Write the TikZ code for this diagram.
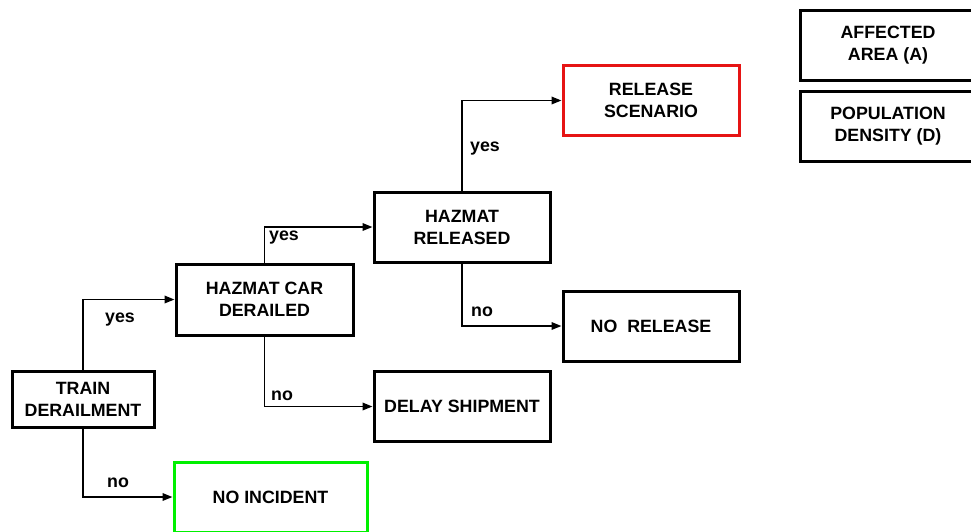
\documentclass[tikz,border=0pt]{standalone}
\usepackage{fontspec}
\setmainfont{Liberation Sans}
\usetikzlibrary{arrows.meta}
\begin{document}
\begin{tikzpicture}[x=1pt,y=-1pt,
  box/.style={draw=black,line width=3pt,minimum width=176pt,minimum height=70pt,
    align=center,font=\fontsize{17.8}{22}\selectfont\bfseries,inner sep=0pt,fill=white},
  conn/.style={line width=1.8pt,-{Triangle[length=10pt,width=7.5pt]}},
  lbl/.style={font=\fontsize{17.8}{22}\selectfont\bfseries,inner sep=0pt}]
\useasboundingbox (0,0) rectangle (971,531);
\clip (0,0) rectangle (971,531);
\node[box,minimum width=142pt,minimum height=56pt] (train) at (83,399) {TRAIN\\DERAILMENT};
\node[box,minimum width=177pt,minimum height=71pt] (hcar) at (264.5,299.5) {HAZMAT CAR\\DERAILED};
\node[box] (rel) at (462,227) {HAZMAT\\RELEASED};
\node[box,draw={rgb,255:red,230;green,20;blue,20}] (scen) at (651,100.5) {RELEASE\\SCENARIO};
\node[box] (norel) at (651,326) {NO\ \ RELEASE};
\node[box] (delay) at (462,406.5) {DELAY SHIPMENT};
\node[box,draw={rgb,255:red,0;green,240;blue,0},minimum width=193pt] (noinc) at (270.5,497) {NO INCIDENT};
\node[box] (area) at (888,45) {AFFECTED\\AREA (A)};
\node[box] (dens) at (888,126) {POPULATION\\DENSITY (D)};
\draw[conn] (train.north) |- (hcar.west);
\draw[conn] (train.south) |- (noinc.west);
\draw[conn] (hcar.north) |- (rel.west);
\draw[conn] (hcar.south) |- (delay.west);
\draw[conn] (rel.north) |- (scen.west);
\draw[conn] (rel.south) |- (norel.west);
\node[lbl] (y1) at (120,320) {yes};
\node[lbl] (n1) at (118,483) {no};
\node[lbl] (y2) at (284,238) {yes};
\node[lbl] (n2) at (282,396) {no};
\node[lbl] (y3) at (485,149) {yes};
\node[lbl] (n3) at (482,312) {no};
\end{tikzpicture}
\end{document}
